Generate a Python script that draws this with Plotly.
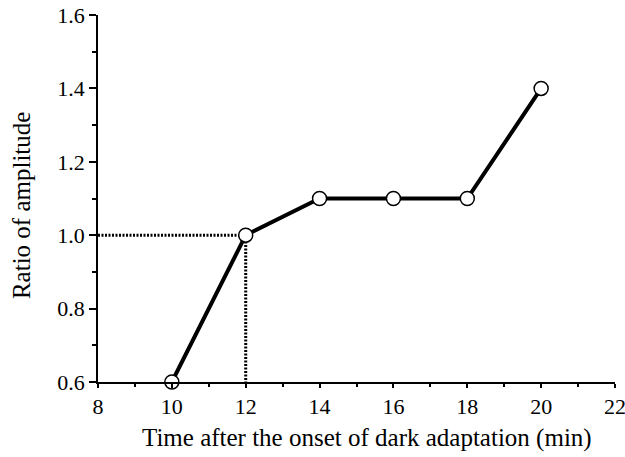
import plotly.graph_objects as go

# Amplitude ratio measured during dark adaptation
time_min = [10, 12, 14, 16, 18, 20]
amplitude_ratio = [0.6, 1.0, 1.1, 1.1, 1.1, 1.4]

# Reference guide: time at which the ratio reaches 1.0
guide_time = 12
guide_ratio = 1.0

x_range = [8, 22]
y_range = [0.6, 1.6]

font_family = "Liberation Serif, Times New Roman, serif"

fig = go.Figure()

# Dotted guide lines to the axes
fig.add_trace(go.Scatter(
    x=[x_range[0], guide_time, guide_time],
    y=[guide_ratio, guide_ratio, y_range[0]],
    mode="lines",
    line=dict(color="black", width=3, dash="2px,1.5px"),
    hoverinfo="skip",
    showlegend=False,
    cliponaxis=False,
))

# Data curve with open circle markers
fig.add_trace(go.Scatter(
    x=time_min,
    y=amplitude_ratio,
    mode="lines+markers",
    line=dict(color="black", width=4),
    marker=dict(symbol="circle", size=14, color="white",
                line=dict(color="black", width=1.5)),
    showlegend=False,
    cliponaxis=False,
))

axis_common = dict(
    showline=True,
    linecolor="black",
    linewidth=1.5,
    showgrid=False,
    zeroline=False,
    ticks="outside",
    tickwidth=1.5,
    tickcolor="black",
    tickfont=dict(family=font_family, size=22, color="black"),
    ticklabeloverflow="allow",
    automargin=False,
    mirror=False,
)

fig.update_xaxes(
    range=x_range,
    dtick=2,
    tick0=8,
    ticklen=4,
    minor=dict(ticks="outside", ticklen=3, tickwidth=1.5, dtick=1, tick0=8,
               tickcolor="black"),
    **axis_common,
)
fig.update_yaxes(
    range=y_range,
    dtick=0.2,
    tick0=0.6,
    tickformat=".1f",
    ticklen=7,
    minor=dict(ticks="outside", ticklen=4, tickwidth=1.5, dtick=0.1, tick0=0.6,
               tickcolor="black"),
    **axis_common,
)

# Axis titles
fig.add_annotation(
    text="Time after the onset of dark adaptation (min)",
    xref="paper", yref="paper", x=0.52, y=-0.153,
    xanchor="center", yanchor="middle", showarrow=False,
    font=dict(family=font_family, size=25, color="black"),
)
fig.add_annotation(
    text="Ratio of amplitude",
    xref="paper", yref="paper", x=-0.149, y=0.482,
    xanchor="center", yanchor="middle", showarrow=False, textangle=-90,
    font=dict(family=font_family, size=25, color="black"),
)

fig.update_layout(
    width=625,
    height=457,
    margin=dict(l=98, r=10, t=15, b=75),
    paper_bgcolor="white",
    plot_bgcolor="white",
    font=dict(family=font_family, color="black"),
)

fig.write_html("out.html")
